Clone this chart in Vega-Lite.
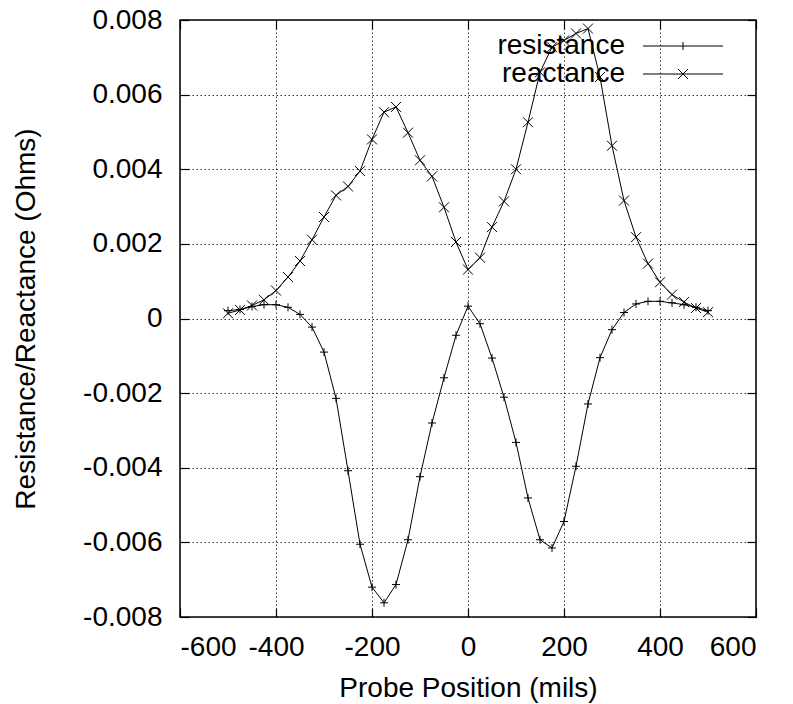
{
  "$schema": "https://vega.github.io/schema/vega-lite/v6.json",
  "autosize": "none",
  "width": 576,
  "height": 597,
  "padding": {"left": 180, "top": 20, "right": 37, "bottom": 87},
  "background": "white",
  "config": {
    "view": {"stroke": "black", "strokeWidth": 1.5},
    "font": "Liberation Sans",
    "axis": {
      "labelFont": "Liberation Sans",
      "titleFont": "Liberation Sans",
      "labelFontSize": 28,
      "titleFontSize": 28,
      "labelColor": "black",
      "titleColor": "black",
      "titleFontWeight": "normal",
      "domain": false,
      "ticks": true,
      "tickColor": "black",
      "tickOpacity": 1,
      "tickWidth": 1.2,
      "gridColor": "#222",
      "gridDash": [1.5, 2.5],
      "gridWidth": 1,
      "gridOpacity": 0.9
    }
  },
  "data": {
    "values": [
      {"x": -500, "value": 0.00021, "series": "resistance"},
      {"x": -475, "value": 0.00024, "series": "resistance"},
      {"x": -450, "value": 0.00032, "series": "resistance"},
      {"x": -425, "value": 0.00037, "series": "resistance"},
      {"x": -400, "value": 0.00037, "series": "resistance"},
      {"x": -375, "value": 0.00030, "series": "resistance"},
      {"x": -350, "value": 0.00011, "series": "resistance"},
      {"x": -325, "value": -0.00023, "series": "resistance"},
      {"x": -300, "value": -0.00090, "series": "resistance"},
      {"x": -275, "value": -0.00214, "series": "resistance"},
      {"x": -250, "value": -0.00408, "series": "resistance"},
      {"x": -225, "value": -0.00605, "series": "resistance"},
      {"x": -200, "value": -0.00720, "series": "resistance"},
      {"x": -175, "value": -0.00762, "series": "resistance"},
      {"x": -150, "value": -0.00713, "series": "resistance"},
      {"x": -125, "value": -0.00593, "series": "resistance"},
      {"x": -100, "value": -0.00424, "series": "resistance"},
      {"x": -75, "value": -0.00280, "series": "resistance"},
      {"x": -50, "value": -0.00159, "series": "resistance"},
      {"x": -25, "value": -0.00045, "series": "resistance"},
      {"x": 0, "value": 0.00033, "series": "resistance"},
      {"x": 25, "value": -0.00014, "series": "resistance"},
      {"x": 50, "value": -0.00106, "series": "resistance"},
      {"x": 75, "value": -0.00211, "series": "resistance"},
      {"x": 100, "value": -0.00332, "series": "resistance"},
      {"x": 125, "value": -0.00481, "series": "resistance"},
      {"x": 150, "value": -0.00593, "series": "resistance"},
      {"x": 175, "value": -0.00615, "series": "resistance"},
      {"x": 200, "value": -0.00544, "series": "resistance"},
      {"x": 225, "value": -0.00396, "series": "resistance"},
      {"x": 250, "value": -0.00229, "series": "resistance"},
      {"x": 275, "value": -0.00105, "series": "resistance"},
      {"x": 300, "value": -0.00030, "series": "resistance"},
      {"x": 325, "value": 0.00016, "series": "resistance"},
      {"x": 350, "value": 0.00039, "series": "resistance"},
      {"x": 375, "value": 0.00046, "series": "resistance"},
      {"x": 400, "value": 0.00046, "series": "resistance"},
      {"x": 425, "value": 0.00042, "series": "resistance"},
      {"x": 450, "value": 0.00037, "series": "resistance"},
      {"x": 475, "value": 0.00030, "series": "resistance"},
      {"x": 500, "value": 0.00021, "series": "resistance"},
      {"x": -500, "value": 0.00014, "series": "reactance"},
      {"x": -475, "value": 0.00023, "series": "reactance"},
      {"x": -450, "value": 0.00035, "series": "reactance"},
      {"x": -425, "value": 0.00050, "series": "reactance"},
      {"x": -400, "value": 0.00075, "series": "reactance"},
      {"x": -375, "value": 0.00111, "series": "reactance"},
      {"x": -350, "value": 0.00154, "series": "reactance"},
      {"x": -325, "value": 0.00211, "series": "reactance"},
      {"x": -300, "value": 0.00272, "series": "reactance"},
      {"x": -275, "value": 0.00330, "series": "reactance"},
      {"x": -250, "value": 0.00354, "series": "reactance"},
      {"x": -225, "value": 0.00395, "series": "reactance"},
      {"x": -200, "value": 0.00480, "series": "reactance"},
      {"x": -175, "value": 0.00553, "series": "reactance"},
      {"x": -150, "value": 0.00567, "series": "reactance"},
      {"x": -125, "value": 0.00498, "series": "reactance"},
      {"x": -100, "value": 0.00424, "series": "reactance"},
      {"x": -75, "value": 0.00381, "series": "reactance"},
      {"x": -50, "value": 0.00298, "series": "reactance"},
      {"x": -25, "value": 0.00205, "series": "reactance"},
      {"x": 0, "value": 0.00131, "series": "reactance"},
      {"x": 25, "value": 0.00163, "series": "reactance"},
      {"x": 50, "value": 0.00245, "series": "reactance"},
      {"x": 75, "value": 0.00314, "series": "reactance"},
      {"x": 100, "value": 0.00400, "series": "reactance"},
      {"x": 125, "value": 0.00526, "series": "reactance"},
      {"x": 150, "value": 0.00660, "series": "reactance"},
      {"x": 175, "value": 0.00727, "series": "reactance"},
      {"x": 200, "value": 0.00745, "series": "reactance"},
      {"x": 225, "value": 0.00764, "series": "reactance"},
      {"x": 250, "value": 0.00777, "series": "reactance"},
      {"x": 275, "value": 0.00647, "series": "reactance"},
      {"x": 300, "value": 0.00463, "series": "reactance"},
      {"x": 325, "value": 0.00316, "series": "reactance"},
      {"x": 350, "value": 0.00218, "series": "reactance"},
      {"x": 375, "value": 0.00147, "series": "reactance"},
      {"x": 400, "value": 0.00097, "series": "reactance"},
      {"x": 425, "value": 0.00064, "series": "reactance"},
      {"x": 450, "value": 0.00044, "series": "reactance"},
      {"x": 475, "value": 0.00028, "series": "reactance"},
      {"x": 500, "value": 0.00017, "series": "reactance"}
    ]
  },
  "layer": [
    {
      "mark": {"type": "line", "stroke": "black", "strokeWidth": 1, "clip": true},
      "encoding": {
        "x": {
          "field": "x", "type": "quantitative",
          "scale": {"domain": [-600, 600], "nice": false, "zero": false},
          "axis": {
            "orient": "bottom",
            "values": [-600, -400, -200, 0, 200, 400, 600],
            "title": "Probe Position (mils)",
            "format": "d",
            "ticks": true,
            "tickSize": -9,
            "labelPadding": 25,
            "titlePadding": 13,
            "grid": true,
            "labelExpr": "replace(datum.label, '\u2212', '-')"
          }
        },
        "y": {
          "field": "value", "type": "quantitative",
          "scale": {"domain": [-0.008, 0.008], "nice": false, "zero": false},
          "axis": {
            "orient": "left",
            "values": [-0.008, -0.006, -0.004, -0.002, 0, 0.002, 0.004, 0.006, 0.008],
            "title": "Resistance/Reactance (Ohms)",
            "format": "~g",
            "ticks": true,
            "tickSize": -9,
            "labelPadding": 27,
            "titlePadding": 42,
            "grid": true,
            "labelExpr": "replace(datum.label, '\u2212', '-')"
          }
        },
        "detail": {"field": "series"}
      }
    },
    {
      "mark": {"type": "point", "filled": false, "stroke": "black", "strokeWidth": 1, "size": 100, "opacity": 1},
      "encoding": {
        "x": {"field": "x", "type": "quantitative", "axis": null},
        "y": {"field": "value", "type": "quantitative", "axis": null},
        "shape": {
          "field": "series", "type": "nominal",
          "scale": {"domain": ["resistance", "reactance"], "range": ["M-0.8,0H0.8M0,-0.8V0.8", "M-1,-1L1,1M-1,1L1,-1"]},
          "legend": null
        }
      }
    },
    {
      "transform": [{"filter": "datum.x > 100000"}],
      "mark": {"type": "point", "filled": false, "stroke": "black", "strokeWidth": 1, "size": 100, "opacity": 1},
      "encoding": {
        "x": {"field": "x", "type": "quantitative", "axis": null},
        "y": {"field": "value", "type": "quantitative", "axis": null},
        "shape": {
          "field": "series", "type": "nominal",
          "scale": {"domain": ["resistance", "reactance"], "range": ["M-8,0H8M0,-0.8V0.8", "M-8,0H8M-1,-1L1,1M-1,1L1,-1"]},
          "legend": {
            "title": null,
            "orient": "none",
            "legendX": 489,
            "legendY": 12,
            "padding": 0,
            "labelFont": "Liberation Sans",
            "labelFontSize": 28,
            "labelColor": "black",
            "labelAlign": "right",
            "labelOffset": -72,
            "rowPadding": 0,
            "symbolStrokeColor": "black",
            "symbolFillColor": "transparent",
            "symbolStrokeWidth": 1,
            "symbolSize": 100
          }
        }
      }
    },
    {
      "mark": {"type": "point", "opacity": 0},
      "encoding": {
        "x": {
          "field": "x", "type": "quantitative",
          "axis": {"orient": "top", "values": [-600, -400, -200, 0, 200, 400, 600], "labels": false, "title": null, "grid": false, "ticks": true, "tickSize": 9, "offset": -9}
        },
        "y": {
          "field": "value", "type": "quantitative",
          "axis": {"orient": "right", "values": [-0.008, -0.006, -0.004, -0.002, 0, 0.002, 0.004, 0.006, 0.008], "labels": false, "title": null, "grid": false, "ticks": true, "tickSize": 9, "offset": -9}
        }
      }
    }
  ],
  "resolve": {"axis": {"x": "independent", "y": "independent"}, "scale": {"shape": "independent"}}
}
